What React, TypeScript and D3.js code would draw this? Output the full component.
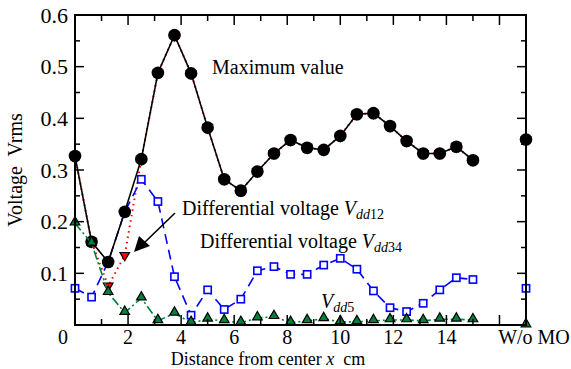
import React from 'react'
import * as d3 from 'd3'

const svgWidth = 571
const svgHeight = 369
const margin = { top: 15, right: 45, bottom: 44, left: 75 }
const graphWidth = svgWidth - margin.left - margin.right
const graphHeight = svgHeight - margin.top - margin.bottom

// sensor positions along the plate, cm
const distance = [0, 0.625, 1.25, 1.875, 2.5, 3.125, 3.75, 4.375, 5, 5.625, 6.25, 6.875, 7.5, 8.125, 8.75, 9.375, 10, 10.625, 11.25, 11.875, 12.5, 13.125, 13.75, 14.375, 15]
const woPos = 17

const maxValue = [0.327, 0.161, 0.122, 0.219, 0.321, 0.488, 0.561, 0.487, 0.382, 0.282, 0.26, 0.297, 0.332, 0.358, 0.343, 0.339, 0.366, 0.408, 0.41, 0.385, 0.356, 0.332, 0.332, 0.345, 0.319]
const vdd12 = [0.327, 0.161, 0.0755, 0.135, 0.321, 0.488, 0.561, 0.487, 0.382, 0.282, 0.26, 0.297, 0.332, 0.358, 0.343, 0.339, 0.366, 0.408, 0.41, 0.385, 0.356, 0.332, 0.332, 0.345, 0.319]
const vdd34 = [0.071, 0.054, 0.122, 0.219, 0.282, 0.239, 0.0935, 0.019, 0.068, 0.03, 0.05, 0.105, 0.113, 0.098, 0.098, 0.116, 0.129, 0.108, 0.066, 0.0335, 0.026, 0.042, 0.068, 0.0915, 0.088]
const vdd5 = [0.197, 0.158, 0.0625, 0.024, 0.052, 0.008, 0.0226, 0.0045, 0.011, 0.008, 0.0045, 0.0135, 0.016, 0.0045, 0.008, 0.012, 0.006, 0.006, 0.008, 0.0097, 0.0097, 0.008, 0.011, 0.011, 0.0097]
// without magneto-optical film
const woValues = { max: 0.359, vdd12: 0.359, vdd34: 0.071, vdd5: 0 }

const xTicks = [0, 2, 4, 6, 8, 10, 12, 14]
const yTicks = [0.1, 0.2, 0.3, 0.4, 0.5, 0.6]

const font = "'Liberation Serif', 'Times New Roman', serif"
const green = '#00803a'

export default function App() {
	const x = d3.scaleLinear().domain([0, 17]).range([0, graphWidth])
	const y = d3.scaleLinear().domain([0, 0.6]).range([graphHeight, 0])

	const line = d3
		.line<number>()
		.x((d, i) => x(distance[i]))
		.y(d => y(d))

	const circle = d3.symbol().type(d3.symbolCircle).size(125)()
	const tri = d3.symbol().type(d3.symbolTriangle).size(40)()

	const minorX = d3.range(1, 17)
	const minorY = d3.range(0.05, 0.6, 0.05)

	const pts = (vals: number[], wo: number) =>
		vals.map((v, i) => [x(distance[i]), y(v)]).concat([[x(woPos), y(wo)]])

	return (
		<div style={{ position: 'absolute', left: 0, top: 0 }}>
			<svg width={svgWidth} height={svgHeight} style={{ display: 'block', background: 'white' }}>
				<g transform={`translate(${margin.left}, ${margin.top})`}>
					{/* Vdd12 */}
					<path d={line(vdd12) || ''} fill="none" stroke="red" strokeWidth={2} strokeDasharray="1.5,4" />
					{pts(vdd12, woValues.vdd12).map(([px, py], i) => (
						<path key={'r' + i} d={tri} transform={`translate(${px},${py}) rotate(180)`} fill="red" stroke="black" strokeWidth={1.2} />
					))}
					{/* Vdd34 */}
					<path d={line(vdd34) || ''} fill="none" stroke="#0000ff" strokeWidth={1.6} strokeDasharray="10,6" />
					{pts(vdd34, woValues.vdd34).map(([px, py], i) => (
						<rect key={'b' + i} x={px - 3.6} y={py - 3.6} width={7.2} height={7.2} fill="white" stroke="#0000ff" strokeWidth={1.6} />
					))}
					{/* Maximum */}
					<path d={line(maxValue) || ''} fill="none" stroke="black" strokeWidth={1.6} />
					{pts(maxValue, woValues.max).map(([px, py], i) => (
						<path key={'k' + i} d={circle} transform={`translate(${px},${py})`} fill="black" />
					))}
					{/* Vdd5 */}
					<path d={line(vdd5) || ''} fill="none" stroke={green} strokeWidth={1.6} strokeDasharray="9,3,2,3" />
					{pts(vdd5, woValues.vdd5).map(([px, py], i) => (
						<path key={'g' + i} d={tri} transform={`translate(${px},${py - 1})`} fill={green} stroke="black" strokeWidth={1.2} />
					))}

					{/* ticks */}
					{minorX.map(t => {
						const len = t % 2 === 0 ? 10 : 6
						return (
							<g key={'tx' + t} stroke="black" strokeWidth={1.5}>
								<line x1={x(t)} x2={x(t)} y1={graphHeight} y2={graphHeight - len} />
								<line x1={x(t)} x2={x(t)} y1={0} y2={len} />
							</g>
						)
					})}
					{minorY.map((t, i) => {
						const len = i % 2 === 1 ? 9 : 5
						return (
							<g key={'ty' + i} stroke="black" strokeWidth={1.5}>
								<line x1={0} x2={len} y1={y(t)} y2={y(t)} />
								<line x1={graphWidth} x2={graphWidth - len} y1={y(t)} y2={y(t)} />
							</g>
						)
					})}
					<rect x={0} y={0} width={graphWidth} height={graphHeight} fill="none" stroke="black" strokeWidth={2} />

					{/* tick labels */}
					{yTicks.map(t => (
						<text key={'ly' + t} x={-7} y={y(t)} dy="0.35em" textAnchor="end" fontFamily={font} fontSize={22}>
							{t.toFixed(1)}
						</text>
					))}
					{xTicks.map(t => (
						<text key={'lx' + t} x={x(t) - (t === 0 ? 12 : 0)} y={graphHeight + 19} textAnchor="middle" fontFamily={font} fontSize={20}>
							{t}
						</text>
					))}
					<text x={x(woPos) + 8} y={graphHeight + 19} textAnchor="middle" fontFamily={font} fontSize={20}>
						W/o MO
					</text>

					{/* axis titles */}
					<text x={193} y={graphHeight + 39.5} textAnchor="middle" fontFamily={font} fontSize={18}>
						Distance from center <tspan fontStyle="italic">x</tspan>{'\u00a0 cm'}
					</text>
					<text transform={`translate(${-53}, ${155}) rotate(-90)`} textAnchor="middle" fontFamily={font} fontSize={20}>
						{'Voltage\u00a0 Vrms'}
					</text>

					{/* annotations */}
					<text x={137} y={59} fontFamily={font} fontSize={20}>Maximum value</text>
					<text x={107} y={200} fontFamily={font} fontSize={20}>
						Differential voltage <tspan fontStyle="italic">V</tspan>
						<tspan fontStyle="italic" fontSize={14} dy={4}>dd</tspan>
						<tspan fontSize={14}>12</tspan>
					</text>
					<text x={125} y={233} fontFamily={font} fontSize={20}>
						Differential voltage <tspan fontStyle="italic">V</tspan>
						<tspan fontStyle="italic" fontSize={14} dy={4}>dd</tspan>
						<tspan fontSize={14}>34</tspan>
					</text>
					<text x={246} y={293} fontFamily={font} fontSize={20}>
						<tspan fontStyle="italic">V</tspan>
						<tspan fontStyle="italic" fontSize={14} dy={4}>dd</tspan>
						<tspan fontSize={14}>5</tspan>
					</text>
					<line x1={100} y1={198} x2={68} y2={229} stroke="black" strokeWidth={1.6} />
					<path d="M59,237 L64,221 L75,231 Z" fill="black" />
				</g>
			</svg>
		</div>
	)
}
